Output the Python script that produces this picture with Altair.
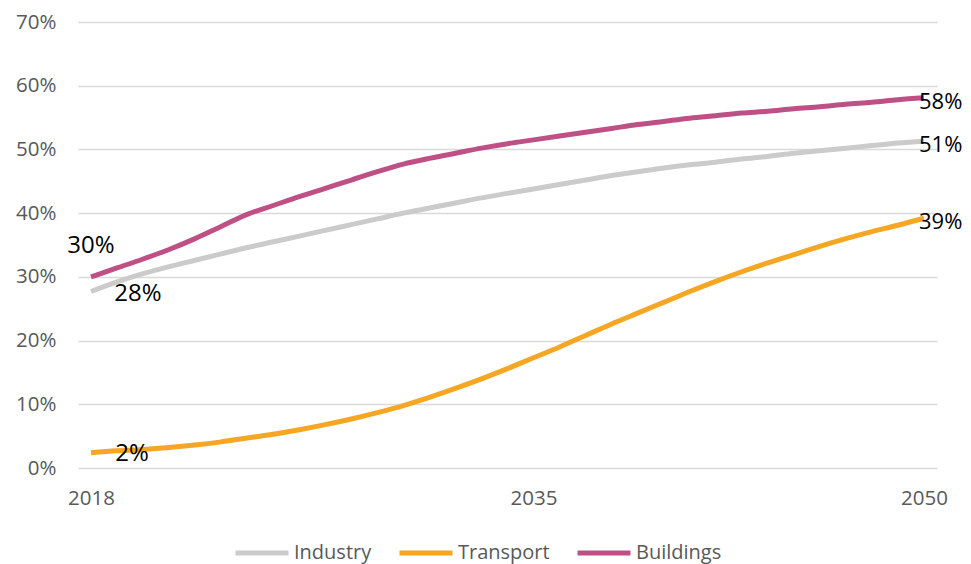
import altair as alt
import pandas as pd

years = list(range(2018, 2051))

industry = [27.7, 29.2, 30.5, 31.6, 32.6, 33.6, 34.6, 35.5, 36.4, 37.3, 38.2, 39.1,
            40.0, 40.8, 41.6, 42.4, 43.1, 43.8, 44.5, 45.2, 45.9, 46.5, 47.1, 47.6,
            48.0, 48.5, 48.9, 49.4, 49.8, 50.2, 50.6, 51.0, 51.3]
transport = [2.4, 2.7, 2.9, 3.2, 3.6, 4.1, 4.7, 5.3, 6.0, 6.8, 7.7, 8.7,
             9.8, 11.1, 12.5, 14.0, 15.6, 17.3, 19.0, 20.8, 22.6, 24.3, 26.0, 27.7,
             29.3, 30.8, 32.2, 33.5, 34.8, 36.0, 37.1, 38.1, 39.2]
buildings = [30.0, 31.4, 32.8, 34.3, 36.0, 37.9, 39.8, 41.2, 42.6, 43.9, 45.2, 46.5,
             47.7, 48.6, 49.4, 50.2, 50.9, 51.5, 52.1, 52.7, 53.3, 53.9, 54.4, 54.9,
             55.3, 55.7, 56.0, 56.4, 56.7, 57.1, 57.4, 57.8, 58.1]

series_names = ["Industry", "Transport", "Buildings"]
series_colors = ["#cbcbcb", "#f5a623", "#bf5086"]
y_ticks = [0, 10, 20, 30, 40, 50, 60, 70]
x_ticks = [2018, 2035, 2050]

rows = []
for name, vals in zip(series_names, [industry, transport, buildings]):
    for yr, v in zip(years, vals):
        rows.append({"year": yr, "series": name, "value": v})
df = pd.DataFrame(rows)

FONT = "Open Sans"

base = alt.Chart(df)

x_enc = alt.X("year:Q",
              scale=alt.Scale(domain=[2017.5, 2050.5], nice=False, zero=False),
              axis=alt.Axis(values=x_ticks, format="d", title=None, grid=False,
                            ticks=False, domain=False, labelFontSize=20.5,
                            labelColor="#595959", labelFont=FONT, labelPadding=20))
y_enc = alt.Y("value:Q",
              scale=alt.Scale(domain=[0, 70], nice=False),
              axis=alt.Axis(values=y_ticks, labelExpr="datum.value + '%'", title=None,
                            ticks=False, domain=False, gridColor="#d9d9d9",
                            gridWidth=1.5, labelFontSize=20.5, labelColor="#595959",
                            labelFont=FONT, labelPadding=22))

lines = base.mark_line(strokeWidth=5, interpolate="monotone").encode(
    x=x_enc,
    y=y_enc,
    color=alt.Color("series:N",
                    scale=alt.Scale(domain=series_names, range=series_colors),
                    sort=series_names,
                    legend=alt.Legend(title=None, orient="none", direction="horizontal",
                                      legendX=155, legendY=502,
                                      symbolType="stroke", symbolSize=2809,
                                      symbolStrokeWidth=5, labelFontSize=20,
                                      labelColor="#595959", labelFont=FONT,
                                      labelOffset=3, columnPadding=17)),
    order=alt.Order("year:Q"),
)

def pct_label(filter_expr, dx, dy, align, size=24):
    return base.transform_filter(filter_expr).transform_calculate(
        lbl="format(datum.value, '.0f') + '%'"
    ).mark_text(
        fontSize=size, font=FONT, color="#000000", dx=dx, dy=dy, align=align,
        baseline="middle"
    ).encode(x="year:Q", y="value:Q", text="lbl:N")

lab_b0 = pct_label("datum.year == 2018 && datum.series == 'Buildings'", 0, -31, "center")
lab_i0 = pct_label("datum.year == 2018 && datum.series == 'Industry'", 47, 2, "center")
lab_t0 = pct_label("datum.year == 2018 && datum.series == 'Transport'", 41, 1, "center")
lab_end = pct_label("datum.year == 2050", -5, 4, "left", 22)

chart = alt.layer(lines, lab_b0, lab_i0, lab_t0, lab_end).properties(
    width=859,
    height=446,
    autosize=alt.AutoSizeParams(type="none"),
    padding={"left": 70, "top": 14, "right": 26, "bottom": 96},
).configure(font=FONT).configure_view(stroke=None)

chart.save("out.html", embed_options={"renderer": "svg", "actions": False})
